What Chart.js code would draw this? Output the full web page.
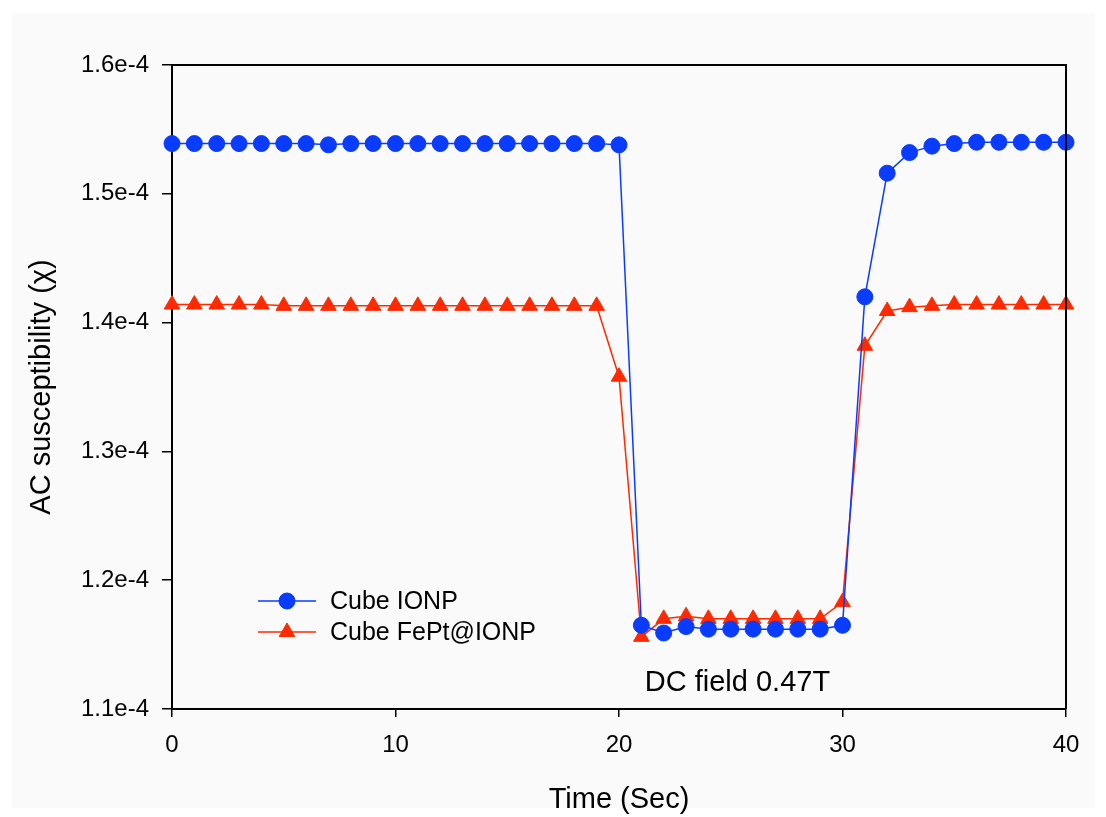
<!DOCTYPE html>
<html>
<head>
<meta charset="utf-8">
<script src="https://cdn.jsdelivr.net/npm/chart.js@4"></script>
<style>
html,body{margin:0;padding:0;background:#ffffff;}
#wrap{position:relative;width:1106px;height:817px;}
canvas{display:block;}
</style>
</head>
<body>
<div id="wrap"><canvas id="c" width="1106" height="817"></canvas></div>
<script>
const times = [0,1,2,3,4,5,6,7,8,9,10,11,12,13,14,15,16,17,18,19,20,21,22,23,24,25,26,27,28,29,30,31,32,33,34,35,36,37,38,39,40];
const cubeIONP = [1.539,1.539,1.539,1.539,1.539,1.539,1.539,1.538,1.539,1.539,1.539,1.539,1.539,1.539,1.539,1.539,1.539,1.539,1.539,1.539,1.538,
  1.165,1.159,1.164,1.162,1.162,1.162,1.162,1.162,1.162,1.165,
  1.420,1.516,1.532,1.537,1.539,1.540,1.540,1.540,1.540,1.540].map(v=>v*1e-4);
const cubeFePt = [1.414,1.414,1.414,1.414,1.414,1.413,1.413,1.413,1.413,1.413,1.413,1.413,1.413,1.413,1.413,1.413,1.413,1.413,1.413,1.413,1.358,
  1.156,1.170,1.172,1.170,1.170,1.170,1.170,1.170,1.170,1.183,
  1.382,1.409,1.412,1.413,1.414,1.414,1.414,1.414,1.414,1.414].map(v=>v*1e-4);
const seriesNames = ['Cube IONP','Cube FePt@IONP'];
const xTicks = [0,10,20,30,40];
const yTicks = [1.1e-4,1.2e-4,1.3e-4,1.4e-4,1.5e-4,1.6e-4];
const annotationText = 'DC field 0.47T';
const xTitle = 'Time (Sec)';
const yTitle = 'AC susceptibility (χ)';

const FONT = "'Liberation Sans', Arial, sans-serif";
const BLUE = '#0a3cff';
const RED = '#ff2a00';

const panelPlugin = {
  id:'panel',
  beforeDraw(chart){
    const ctx = chart.ctx;
    ctx.save();
    ctx.fillStyle = '#fafafa';
    ctx.fillRect(12,13,1083,795);
    ctx.restore();
  }
};

const framePlugin = {
  id:'frame',
  afterDraw(chart){
    const {ctx, chartArea:a, scales} = chart;
    ctx.save();
    ctx.strokeStyle = '#000';
    ctx.lineWidth = 2;
    ctx.beginPath();
    ctx.moveTo(a.left, a.top); ctx.lineTo(a.right, a.top); ctx.lineTo(a.right, a.bottom);
    ctx.stroke();
    // annotation
    ctx.fillStyle = '#000';
    ctx.font = '29px ' + FONT;
    ctx.textAlign = 'center';
    ctx.textBaseline = 'middle';
    ctx.fillText(annotationText, scales.x.getPixelForValue(25.3), scales.y.getPixelForValue(1.1200e-4));
    // legend
    const items = chart.data.datasets;
    const lx0 = 258, lx1 = 316, tx = 330;
    const ys = [601, 632];
    ctx.font = '25px ' + FONT;
    ctx.textAlign = 'left';
    items.forEach((ds,i)=>{
      const y = ys[i];
      ctx.strokeStyle = ds.borderColor;
      ctx.lineWidth = ds.borderWidth;
      ctx.beginPath(); ctx.moveTo(lx0,y); ctx.lineTo(lx1,y); ctx.stroke();
      ctx.fillStyle = ds.pointBackgroundColor;
      ctx.strokeStyle = ds.pointBorderColor;
      ctx.lineWidth = 1;
      Chart.helpers.drawPoint(ctx, {pointStyle: ds.pointStyle, radius: ds.pointRadius, borderWidth: 1}, (lx0+lx1)/2, y);
      ctx.fillStyle = '#000';
      ctx.fillText(ds.label, tx, y+1);
    });
    ctx.restore();
  }
};

new Chart(document.getElementById('c'), {
  type:'line',
  data:{
    datasets:[
      {label:seriesNames[0], data:times.map((t,i)=>({x:t,y:cubeIONP[i]})), borderColor:BLUE, backgroundColor:BLUE,
       pointBackgroundColor:BLUE, pointBorderColor:BLUE, borderWidth:1.5, pointStyle:'circle', pointRadius:8, pointBorderWidth:1, tension:0},
      {label:seriesNames[1], data:times.map((t,i)=>({x:t,y:cubeFePt[i]})), borderColor:RED, backgroundColor:RED,
       pointBackgroundColor:RED, pointBorderColor:RED, borderWidth:1.5, pointStyle:'triangle', pointRadius:9, pointBorderWidth:1, tension:0}
    ]
  },
  plugins:[panelPlugin, framePlugin],
  options:{
    responsive:false,
    animation:false,
    clip:false,
    layout:{padding:{left:0, right:40, top:65, bottom:0}},
    plugins:{legend:{display:false}, tooltip:{enabled:false}},
    scales:{
      x:{
        type:'linear', min:0, max:40,
        afterBuildTicks(s){ s.ticks = xTicks.map(v=>({value:v})); },
        afterFit(s){ s.height = 108; },
        grid:{drawOnChartArea:false, drawTicks:true, tickLength:8, color:'#000', lineWidth:1.5},
        border:{display:true, color:'#000', width:2},
        ticks:{color:'#000', font:{family:FONT, size:24}, padding:14},
        title:{display:true, text:xTitle, color:'#000', font:{family:FONT, size:29}, padding:{top:0,bottom:0}}
      },
      y:{
        type:'linear', min:1.1e-4, max:1.6e-4,
        afterBuildTicks(s){ s.ticks = yTicks.map(v=>({value:v})); },
        afterFit(s){ s.width = 172; },
        grid:{drawOnChartArea:false, drawTicks:true, tickLength:10, color:'#000', lineWidth:1.5},
        border:{display:true, color:'#000', width:2},
        ticks:{color:'#000', font:{family:FONT, size:24}, padding:13, callback:(v)=> (v*1e4).toFixed(1)+'e-4'},
        title:{display:true, text:yTitle, color:'#000', font:{family:FONT, size:29}, padding:{top:25,bottom:25}}
      }
    }
  }
});
</script>
</body>
</html>
